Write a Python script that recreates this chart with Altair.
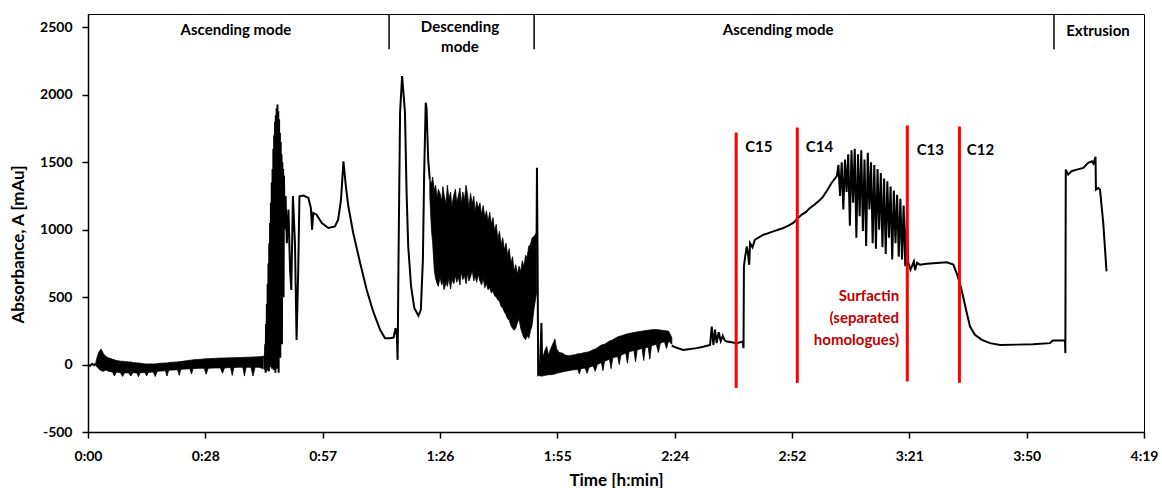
import altair as alt
import pandas as pd

# ---------------- data (time in minutes, absorbance in mAu) ----------------
X_TICKS = [0, 28.8, 57.6, 86.4, 115.2, 144.0, 172.8, 201.6, 230.4, 259.2]
Y_TICKS = [-500, 0, 500, 1000, 1500, 2000, 2500]

TRACE_START = [(0, 0), (0.5, -10), (1.0, 5), (1.5, -5), (2.0, 10)]

TRACE_PEAKS = [
    (43.0, 60), (43.3, 60), (43.4, -40), (43.5, 150), (43.6, -60), (43.7, 300),
    (43.8, -50), (43.9, 450), (44.0, -40), (44.1, 600), (44.2, 0), (44.3, 750),
    (44.4, -50), (44.5, 900), (44.6, 100), (44.7, 1050), (44.8, -20), (44.9, 1200),
    (45.0, 50), (45.1, 1350), (45.2, -30), (45.3, 1450), (45.4, 150), (45.5, 1600),
    (45.6, -40), (45.7, 1700), (45.8, 200), (45.9, 1800), (46.0, -60), (46.1, 1850),
    (46.2, 250), (46.3, 1900), (46.4, -30), (46.5, 1929), (46.6, 100), (46.7, 1880),
    (46.8, -60), (46.9, 1820), (47.0, 300), (47.1, 1720), (47.2, 50), (47.3, 1650),
    (47.4, 400), (47.5, 1560), (47.6, 150), (47.7, 1500), (47.8, 600), (47.9, 1450),
    (48.0, 500), (48.1, 1400), (48.3, 1000), (48.5, 1250), (48.8, 900), (49.2, 1150),
    (49.6, 700), (49.9, 554), (50.3, 1250), (50.8, 900), (51.2, 183), (51.6, 700),
    (51.9, 1248), (52.9, 1253), (54.1, 1236), (54.7, 1162), (55.0, 1000), (55.3, 1125),
    (56.1, 1112), (57.4, 1050), (59.0, 1013), (60.6, 1025), (61.4, 1075), (62.1, 1224),
    (62.7, 1508), (63.3, 1322), (63.9, 1174), (65.1, 976), (66.8, 753), (68.4, 555),
    (70.0, 394), (71.7, 258), (72.9, 196), (74.1, 196), (75.0, 200), (75.5, 270),
    (75.8, 220), (76.0, 35), (76.2, 728), (76.6, 1870), (77.1, 2140), (77.6, 1950),
    (77.8, 1870), (78.2, 1275), (78.6, 877), (79.3, 579), (80.1, 419), (81.1, 362),
    (81.7, 406), (82.2, 778), (82.5, 1397), (82.9, 1942), (83.1, 1900), (83.5, 1521),
    (83.9, 1372),
]

TRACE_DROP = [(110.1, 900), (110.2, 1459), (110.35, 800), (110.5, -77), (110.9, -70),
              (111.3, 308), (111.5, -60)]

TRACE_LATE = [
    (143.3, 140), (144.5, 125), (146.1, 109), (147.8, 115), (149.4, 122), (151.0, 132),
    (152.7, 146), (153.1, 282), (153.5, 145), (153.9, 260), (154.3, 160), (154.8, 240),
    (155.3, 175), (155.8, 215), (156.3, 180), (156.8, 171), (158.0, 165), (159.2, 159),
    (160.7, 171), (160.9, 122), (161.0, 728), (161.3, 800), (161.7, 877), (162.0, 820),
    (162.3, 740), (162.5, 900), (163.1, 870), (163.7, 926), (164.8, 945), (165.8, 963),
    (167.0, 975), (168.2, 988), (169.4, 1000), (170.7, 1013), (171.9, 1030), (173.1, 1050),
    (173.9, 1075), (175.2, 1112), (176.2, 1130), (177.2, 1162), (178.3, 1185), (179.3, 1211),
    (180.3, 1240), (181.3, 1285), (182.5, 1347), (183.8, 1397),
    (184.2, 1480), (184.6, 1250), (185.0, 1500), (185.4, 1150), (185.8, 1520), (186.2, 1280),
    (186.6, 1560), (187.0, 1030), (187.4, 1590), (187.8, 1200), (188.2, 1600), (188.6, 940),
    (189.0, 1560), (189.4, 1100), (189.8, 1590), (190.2, 990), (190.6, 1520), (191.0, 880),
    (191.4, 1570), (191.8, 1150), (192.2, 1500), (192.6, 900), (193.0, 1480), (193.4, 860),
    (193.8, 1450), (194.2, 1000), (194.6, 1420), (195.0, 870), (195.4, 1380), (195.8, 820),
    (196.2, 1360), (196.6, 940), (197.0, 1320), (197.4, 780), (197.8, 1290), (198.2, 900),
    (198.6, 1260), (199.0, 800), (199.4, 1230), (199.8, 780), (200.2, 1180), (200.6, 730),
    (201.0, 1100), (201.3, 760),
    (201.9, 703), (202.7, 765), (203.0, 700), (203.5, 755), (204.2, 741), (205.9, 748),
    (208.3, 753), (210.8, 758), (212.4, 741), (213.2, 679), (214.0, 605), (214.8, 505),
    (215.7, 382), (216.5, 282), (217.7, 221), (219.4, 183), (221.4, 159), (223.9, 146),
    (228.0, 148), (232.0, 150), (236.1, 159), (236.8, 178), (239.8, 178), (239.9, 85),
    (240.0, 1446), (240.6, 1409), (241.4, 1434), (242.7, 1446), (244.3, 1459),
    (245.5, 1496), (246.4, 1508), (246.8, 1490), (247.3, 1541), (247.4, 1298),
    (248.0, 1310), (248.4, 1298), (249.2, 1050), (250.0, 691),
]

# noisy stretches: (time, low envelope, high envelope)
BAND_BASELINE = [
    (2.0, -10, 30), (2.6, -30, 90), (3.2, -45, 115), (3.8, -50, 80), (4.4, -40, 60),
    (5.0, -50, 50), (6.0, -55, 40), (6.5, -85, 35), (7.0, -55, 30), (8.0, -60, 25),
    (8.5, -88, 25), (9.0, -60, 22), (10.0, -62, 20), (10.5, -85, 20), (11.0, -60, 15),
    (12.0, -62, 12), (12.4, -90, 12), (12.8, -60, 10), (14.0, -60, 5), (14.4, -85, 5),
    (14.8, -58, 5), (16.0, -55, 5), (16.5, -88, 5), (17.0, -50, 8), (18.0, -48, 10),
    (19.0, -45, 12), (19.4, -85, 12), (19.8, -42, 15), (21.0, -40, 18), (22.0, -38, 20),
    (22.4, -80, 22), (22.8, -35, 22), (24.0, -33, 28), (25.0, -30, 32), (25.4, -70, 33),
    (25.8, -30, 35), (27.0, -28, 38), (28.5, -27, 42), (29.0, -72, 43), (29.5, -27, 44),
    (31.0, -25, 46), (32.5, -25, 48), (33.0, -65, 48), (33.5, -25, 49), (35.0, -22, 50),
    (35.4, -80, 50), (35.8, -22, 51), (37.0, -20, 52), (38.0, -20, 53), (38.4, -85, 54),
    (38.8, -20, 54), (40.0, -20, 55), (40.5, -85, 56), (41.0, -20, 57), (42.0, -20, 58),
    (43.0, -30, 60),
]

BAND_DESCENDING = [
    (83.9, 1250, 1372), (84.3, 1000, 1340), (84.6, 900, 1390), (85.0, 700, 1290),
    (85.3, 640, 1330), (85.7, 600, 1240), (86.0, 580, 1300), (86.4, 650, 1270),
    (86.8, 590, 1210), (87.1, 620, 1320), (87.4, 555, 1260), (87.9, 610, 1190),
    (88.2, 580, 1330), (88.6, 640, 1230), (89.0, 560, 1280), (89.3, 630, 1170),
    (89.8, 600, 1260), (90.2, 660, 1300), (90.5, 610, 1200), (90.9, 650, 1250),
    (91.3, 590, 1310), (91.6, 690, 1190), (92.0, 630, 1280), (92.4, 660, 1220),
    (92.8, 600, 1330), (93.2, 680, 1250), (93.5, 620, 1160), (93.9, 650, 1270),
    (94.3, 700, 1190), (94.7, 620, 1250), (95.0, 660, 1130), (95.4, 610, 1210),
    (95.8, 670, 1160), (96.2, 620, 1200), (96.6, 590, 1110), (97.0, 640, 1180),
    (97.4, 570, 1090), (97.8, 600, 1140), (98.2, 555, 1060), (98.6, 570, 1130),
    (99.0, 530, 1040), (99.4, 545, 1090), (99.8, 510, 990), (100.2, 500, 1040),
    (100.6, 480, 930), (101.0, 470, 990), (101.4, 430, 890), (101.8, 420, 940),
    (102.2, 390, 850), (102.6, 370, 900), (103.0, 340, 810), (103.4, 330, 860),
    (103.8, 290, 750), (104.2, 270, 800), (104.6, 255, 690), (105.0, 270, 740),
    (105.4, 310, 670), (105.8, 340, 730), (106.2, 270, 690), (106.6, 230, 770),
    (107.0, 200, 730), (107.4, 185, 810), (107.8, 215, 800), (108.2, 195, 880),
    (108.6, 250, 890), (109.0, 290, 940), (109.5, 420, 950), (110.1, 530, 980),
]

BAND_ASCENDING = [
    (110.9, -85, -40), (111.5, -85, 40), (112.2, -80, 110), (112.6, -78, 134),
    (113.0, -75, 70), (113.6, -75, 120), (114.2, -72, 160), (114.6, -70, 190),
    (115.0, -65, 120), (115.6, -60, 90), (116.4, -55, 85), (117.2, -50, 70),
    (118.0, -45, 65), (118.8, -40, 70), (119.5, -38, 72), (120.2, -35, 80),
    (120.6, -70, 80), (121.0, -30, 82), (122.0, -25, 90), (122.5, -65, 92),
    (123.0, -20, 95), (124.0, -10, 110), (124.5, -50, 115), (125.0, 0, 125),
    (126.0, 15, 145), (126.4, -45, 148), (126.8, 25, 150), (128.0, 40, 175),
    (128.4, -30, 178), (128.8, 50, 185), (130.0, 60, 205), (130.4, 0, 210),
    (130.8, 70, 212), (132.0, 85, 225), (132.4, 10, 228), (132.8, 95, 230),
    (134.0, 105, 238), (134.4, 20, 240), (134.8, 110, 242), (136.0, 120, 248),
    (136.4, 30, 250), (136.8, 125, 252), (137.5, 130, 255), (137.9, 40, 256),
    (138.3, 140, 258), (139.5, 150, 260), (140.0, 90, 258), (140.5, 160, 256),
    (141.5, 170, 252), (142.0, 120, 250), (142.5, 175, 248), (143.3, 150, 200),
]

# red homologue cut lines
CUT_T = [159.1, 174.1, 201.1, 213.9]
CUT_TOP = [1721, 1758, 1773, 1766]
CUT_BOTTOM = [-173, -136, -126, -134]
CUT_LABELS = ["C15", "C14", "C13", "C12"]
CUT_LABEL_T = [161.3, 176.2, 203.4, 215.7]
CUT_LABEL_A = [1610, 1610, 1588, 1588]

# mode dividers and labels
DIV_T = [73.9, 109.5, 237.1]
DIV_TOP = 2600
DIV_BOTTOM = 2338
MODE_LABELS = ["Ascending mode", "Descending\nmode", "Ascending mode", "Extrusion"]
MODE_T = [36.3, 91.3, 169.4, 247.9]
MODE_A = [2479, 2501, 2479, 2472]

SURF_TEXT = "Surfactin\n(separated\nhomologues)"
SURF_T = 199.1
SURF_A = 505

# ---------------- build tables ----------------
rows = []
for name, seg in [("s1", TRACE_START), ("s2", TRACE_PEAKS), ("s3", TRACE_DROP), ("s4", TRACE_LATE)]:
    for t, a in seg:
        rows.append({"seg": name, "t": t, "a": a})
trace_df = pd.DataFrame(rows)

brows = []
for name, band in [("b1", BAND_BASELINE), ("b2", BAND_DESCENDING), ("b3", BAND_ASCENDING)]:
    for t, lo, hi in band:
        brows.append({"seg": name, "t": t, "a": lo, "hi": hi})
band_df = pd.DataFrame(brows)

cut_df = pd.DataFrame({"t": CUT_T, "a": CUT_BOTTOM, "top": CUT_TOP})
cut_lab_df = pd.DataFrame({"t": CUT_LABEL_T, "a": CUT_LABEL_A, "label": CUT_LABELS})
div_df = pd.DataFrame({"t": DIV_T, "a": [DIV_BOTTOM] * len(DIV_T), "top": [DIV_TOP] * len(DIV_T)})
mode_df = pd.DataFrame({"t": MODE_T, "a": MODE_A, "label": MODE_LABELS})
surf_df = pd.DataFrame({"t": [SURF_T], "a": [SURF_A], "label": [SURF_TEXT]})

FONT = "Lato"
xscale = alt.Scale(domain=[0, 259.2], nice=False, zero=False)
yscale = alt.Scale(domain=[-500, 2600], nice=False, zero=False)

x_axis = alt.Axis(
    values=X_TICKS,
    labelExpr="floor(datum.value/60 + 0.0001) + ':' + (floor(datum.value%60 + 0.0001) < 10 ? '0' : '') + floor(datum.value%60 + 0.0001)",
    labelFlush=False, labelOverlap=False,
    title="Time [h:min]", grid=False, tickSize=6, labelPadding=11,
    titleX=528, titleY=48, titleBaseline="middle", titleAlign="center",
)
y_axis = alt.Axis(
    values=Y_TICKS, labelExpr="'' + datum.value", title="Absorbance, A [mAu]",
    grid=False, tickSize=6, labelPadding=10,
    titleX=-70, titleY=230, titleAngle=-90, titleBaseline="middle", titleAlign="center",
)
X = alt.X("t:Q", scale=xscale, axis=x_axis)
Y = alt.Y("a:Q", scale=yscale, axis=y_axis)

bands = alt.Chart(band_df).mark_area(color="black", opacity=1, strokeWidth=0.8, stroke="black").encode(
    x=X, y=Y, y2="hi:Q", detail="seg:N",
)

trace = alt.Chart(trace_df).mark_line(color="black", strokeWidth=2).encode(
    x=X, y=Y, detail="seg:N", order="t:Q",
)

cuts = alt.Chart(cut_df).mark_rule(color="#FF0000", strokeWidth=3).encode(
    x=X, y=Y, y2="top:Q"
)
cut_labels = alt.Chart(cut_lab_df).mark_text(
    align="left", baseline="middle", font=FONT, fontWeight="bold", fontSize=15, color="black"
).encode(x=X, y=Y, text="label:N")

dividers = alt.Chart(div_df).mark_rule(color="black", strokeWidth=1.5).encode(
    x=X, y=Y, y2="top:Q"
)
mode_labels = alt.Chart(mode_df).mark_text(
    align="center", baseline="middle", font=FONT, fontWeight="bold", fontSize=15,
    color="black", lineBreak="\n", lineHeight=20,
).encode(x=X, y=Y, text="label:N")

surf = alt.Chart(surf_df).mark_text(
    align="right", baseline="middle", font=FONT, fontWeight="bold", fontSize=15,
    color="#C00000", lineBreak="\n", lineHeight=22,
).encode(x=X, y=Y, text="label:N")

chart = alt.layer(trace, bands, cuts, dividers, cut_labels, mode_labels, surf).properties(
    width=1056, height=418,
    autosize=alt.AutoSizeParams(type="none"),
    padding={"left": 80, "top": 6, "right": 16, "bottom": 56},
).configure_view(
    stroke="black", strokeWidth=1
).configure_axis(
    domainColor="black", domainWidth=1.5, tickColor="black", tickWidth=1.5,
    labelFont=FONT, labelFontWeight="bold", labelFontSize=14, labelColor="black",
    titleFont=FONT, titleFontWeight="bold", titleFontSize=17, titleColor="black",
)

chart.save("out.html", embed_options={"renderer": "svg", "actions": False})

# page tweaks: no scrollbar, and no right/bottom body margin so the chart is not shrunk
with open("out.html", encoding="utf-8") as f:
    html = f.read()
html = html.replace(
    "<head>",
    "<head><style>html,body{overflow:hidden;} body{margin:8px 0 0 8px;}</style>",
    1,
)
with open("out.html", "w", encoding="utf-8") as f:
    f.write(html)
